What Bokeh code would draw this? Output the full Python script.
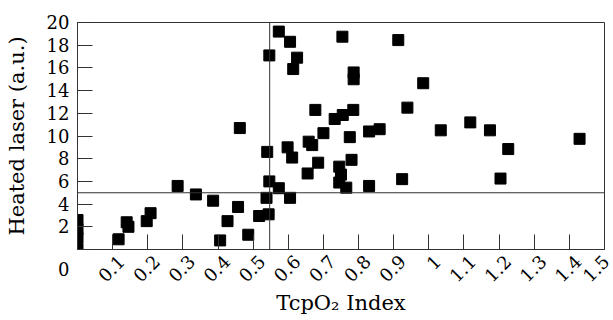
from bokeh.plotting import figure
from bokeh.models import FixedTicker, CustomJSTickFormatter, Span, Range1d
from bokeh.embed import file_html
from bokeh.resources import INLINE
import math

# data
tcpo2_index = [0, 0, 0, 0, 0.117, 0.14, 0.145, 0.208, 0.197, 0.285, 0.337, 0.386, 0.457, 0.427, 0.406, 0.486, 0.462,
               0.517, 0.544, 0.538, 0.546, 0.573, 0.605, 0.54, 0.598, 0.611, 0.655, 0.685, 0.658, 0.668, 0.70,
               0.745, 0.75, 0.745, 0.765, 0.78, 0.775, 0.83, 0.86, 0.83, 0.924,
               0.573, 0.605, 0.546, 0.625, 0.614, 0.754, 0.913, 0.786, 0.786, 0.984, 0.677, 0.785, 0.732, 0.755, 0.939,
               1.034, 1.118, 1.174, 1.429, 1.226, 1.204]
heated_laser = [2.6, 1.8, 1.0, 0.0, 0.9, 2.4, 2.0, 3.2, 2.5, 5.6, 4.85, 4.3, 3.75, 2.5, 0.8, 1.3, 10.7,
                2.95, 3.1, 4.55, 6.0, 5.4, 4.55, 8.6, 9.0, 8.1, 6.7, 7.65, 9.5, 9.2, 10.25,
                7.3, 6.6, 5.9, 5.45, 7.9, 9.9, 10.4, 10.6, 5.6, 6.2,
                19.2, 18.3, 17.1, 16.9, 15.9, 18.75, 18.45, 15.6, 15.0, 14.65, 12.3, 12.3, 11.5, 11.85, 12.5,
                10.5, 11.2, 10.5, 9.75, 8.85, 6.25]
x_ticks = [0.1, 0.2, 0.3, 0.4, 0.5, 0.6, 0.7, 0.8, 0.9, 1.0, 1.1, 1.2, 1.3, 1.4, 1.5]
y_ticks = [0, 2, 4, 6, 8, 10, 12, 14, 16, 18, 20]
x_threshold = 0.547
y_threshold = 5

FONT = "DejaVu Serif"

p = figure(width=613, height=320, output_backend="svg", toolbar_location=None,
           x_range=Range1d(0, 1.5), y_range=Range1d(0, 20))
p.min_border_left = 77
p.min_border_right = 9
p.min_border_top = 22
p.min_border_bottom = 71
p.grid.visible = False
p.outline_line_color = "#333333"
p.outline_line_width = 1
p.background_fill_color = "white"
p.border_fill_color = "white"

p.scatter(tcpo2_index, heated_laser, marker="square", size=11, fill_color="black", line_color="black")

p.add_layout(Span(location=y_threshold, dimension="width", line_color="#333333", line_width=1))
p.add_layout(Span(location=x_threshold, dimension="height", line_color="#333333", line_width=1))

for ax in (p.xaxis[0], p.yaxis[0]):
    ax.axis_line_color = "#333333"
    ax.major_tick_in = 15
    ax.major_tick_out = 0
    ax.minor_tick_line_color = None
    ax.major_tick_line_color = "#333333"
    ax.major_label_text_font = FONT
    ax.major_label_text_font_size = "18px"
    ax.major_label_text_color = "black"
    ax.axis_label_text_font = FONT
    ax.axis_label_text_font_size = "21px"
    ax.axis_label_text_font_style = "normal"
    ax.axis_label_text_color = "black"

p.xaxis.ticker = FixedTicker(ticks=x_ticks)
# leading newline nudges the rotated labels down-right, as in the reference
p.xaxis.formatter = CustomJSTickFormatter(code='return "\\n" + String(Number(tick.toFixed(2)));')
p.xaxis.major_label_orientation = math.pi / 4
p.xaxis.major_label_standoff = 0
p.xaxis.axis_label = "TcpO₂ Index"
p.xaxis.axis_label_standoff = -14

p.yaxis.ticker = FixedTicker(ticks=y_ticks)
p.yaxis.major_label_overrides = {0: "\n0"}
p.yaxis.major_label_text_line_height = 1.9
p.yaxis.major_label_standoff = 8
p.yaxis.axis_label = "Heated laser (a.u.)"
p.yaxis.axis_label_standoff = 15

open("out.html", "w").write(file_html(p, INLINE))
